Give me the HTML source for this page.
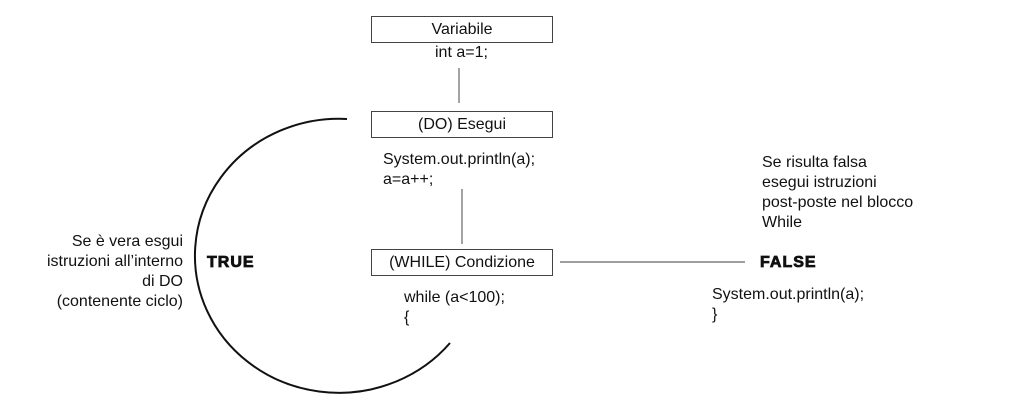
<!DOCTYPE html>
<html><head><meta charset="utf-8"><style>
body{margin:0;width:1024px;height:416px;background:#fff;position:relative;overflow:hidden;font-family:"Liberation Sans",Arial,sans-serif;color:#111}
.t{position:absolute;font-size:16px;line-height:20px;white-space:nowrap}
.box{position:absolute;border:1px solid #444;box-sizing:border-box;text-align:center;font-size:16px;line-height:26px}
.b{font-weight:900;font-size:16px;letter-spacing:1px;-webkit-text-stroke:0.8px #111}
</style></head><body>
<svg width="1024" height="416" style="position:absolute;left:0;top:0">
<path d="M347 119 A144 137 0 1 0 450 343" fill="none" stroke="#111" stroke-width="2"/>
<line x1="459" y1="68" x2="459" y2="103" stroke="#666" stroke-width="1.2"/>
<line x1="462" y1="189" x2="462" y2="244" stroke="#666" stroke-width="1.2"/>
<line x1="560" y1="262" x2="745" y2="262" stroke="#666" stroke-width="1.2"/>
</svg>
<div class="box" style="left:371px;top:16px;width:182px;height:27px">Variabile</div>
<div class="t" style="left:435px;top:43px">int a=1;</div>
<div class="box" style="left:371px;top:111px;width:182px;height:27px">(DO) Esegui</div>
<div class="t" style="left:383px;top:150px">System.out.println(a);<br>a=a++;</div>
<div class="box" style="left:371px;top:249px;width:182px;height:27px">(WHILE) Condizione</div>
<div class="t" style="left:404px;top:288px">while (a&lt;100);<br>{</div>
<div class="t" style="left:0;width:183px;top:232px;text-align:right">Se è vera esgui<br>istruzioni all’interno<br>di DO<br>(contenente ciclo)</div>
<div class="t b" style="left:207px;top:253px">TRUE</div>
<div class="t b" style="left:760px;top:253px">FALSE</div>
<div class="t" style="left:762px;top:153px">Se risulta falsa<br>esegui istruzioni<br>post-poste nel blocco<br>While</div>
<div class="t" style="left:712px;top:285px">System.out.println(a);<br>}</div>
</body></html>
